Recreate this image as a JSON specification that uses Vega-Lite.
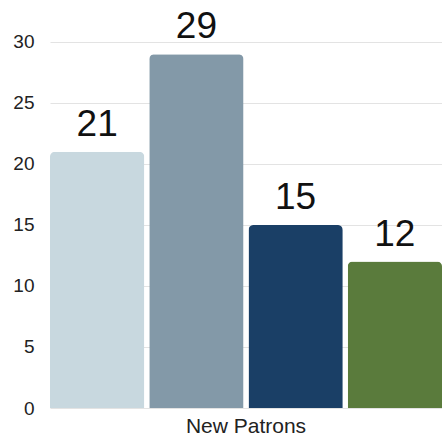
{
  "$schema": "https://vega.github.io/schema/vega-lite/v6.json",
  "width": 392,
  "height": 408,
  "padding": {"left": 50, "top": 0, "right": 0, "bottom": 30},
  "autosize": {"type": "none"},
  "background": "white",
  "config": {"view": {"stroke": null}, "font": "Liberation Sans"},
  "data": {
    "values": [
      {"metric": "New Patrons", "series": "Series 1", "value": 21},
      {"metric": "New Patrons", "series": "Series 2", "value": 29},
      {"metric": "New Patrons", "series": "Series 3", "value": 15},
      {"metric": "New Patrons", "series": "Series 4", "value": 12}
    ]
  },
  "encoding": {
    "x": {
      "field": "metric",
      "type": "nominal",
      "scale": {"paddingInner": 0, "paddingOuter": 0},
      "axis": {"title": null, "domain": false, "ticks": false, "labelAngle": 0, "labelFontSize": 21, "labelColor": "#222", "labelPadding": 7}
    },
    "xOffset": {
      "field": "series",
      "type": "nominal",
      "scale": {"paddingInner": 0.05, "paddingOuter": 0}
    },
    "y": {
      "field": "value",
      "type": "quantitative",
      "scale": {"domain": [0, 33.44], "nice": false},
      "axis": {"title": null, "values": [0, 5, 10, 15, 20, 25, 30], "domain": false, "ticks": false, "labelPadding": 16, "labelFontSize": 19, "labelColor": "#222", "gridColor": "#e3e3e3", "gridWidth": 1}
    }
  },
  "layer": [
    {
      "mark": {"type": "bar", "cornerRadiusTopLeft": 5, "cornerRadiusTopRight": 5},
      "encoding": {
        "color": {
          "field": "series",
          "type": "nominal",
          "legend": null,
          "scale": {"range": ["#c8d8df", "#8399a8", "#1a3f66", "#5a7b3c"]}
        }
      }
    },
    {
      "mark": {"type": "text", "baseline": "alphabetic", "dy": -16, "fontSize": 37, "color": "#111"},
      "encoding": {"text": {"field": "value", "type": "quantitative"}}
    }
  ]
}
